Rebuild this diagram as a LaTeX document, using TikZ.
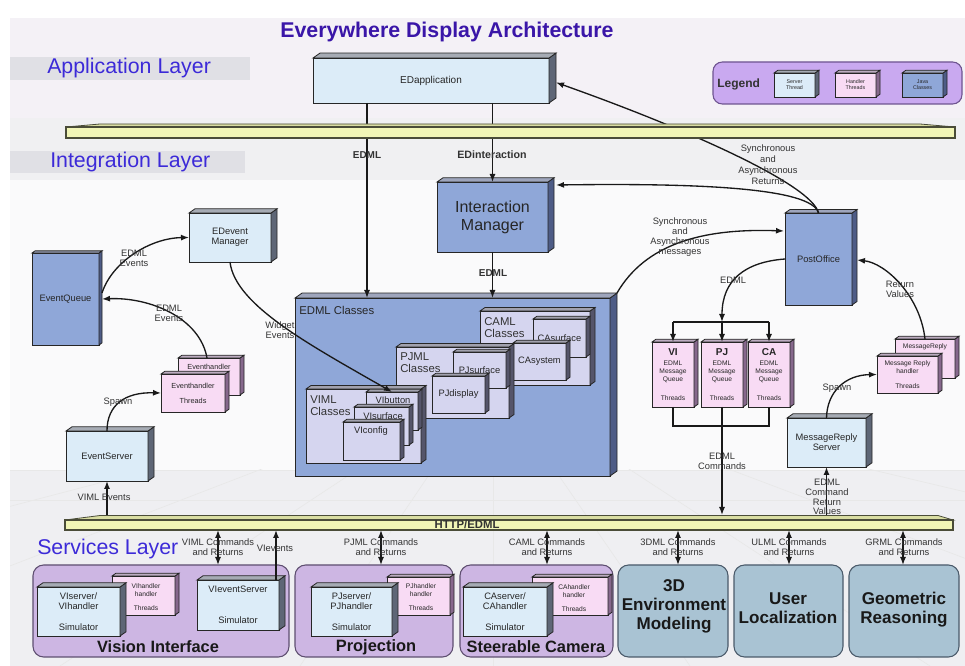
\documentclass[tikz,border=0pt]{standalone}
\usepackage{fontspec}
\setmainfont{Liberation Sans}
\usetikzlibrary{arrows.meta}

\newcommand\fsz[2]{\fontsize{#1}{#2}\selectfont}
% box by corners: name, x1, y1, x2, y2, style, text
\newcommand\bx[7]{\node[#6, minimum width={(#4-#2)*0.75pt}, minimum height={(#5-#3)*0.75pt}] (#1) at ({(#2+#4)/2},{(#3+#5)/2}) {#7};}
% extruded side and top faces of a box: name, depth, side colour
\newcommand\ext[3]{%
  \filldraw[edge, fill=#3] (#1.north east) -- ++(#2,{-0.7*#2}) -- ([shift={(#2,{-0.7*#2})}]#1.south east) -- (#1.south east) -- cycle;
  \filldraw[edge, fill=#3!55!white] (#1.north west) -- ++(#2,{-0.7*#2}) -- ([shift={(#2,{-0.7*#2})}]#1.north east) -- (#1.north east) -- cycle;}

\definecolor{srv}{HTML}{DCECF8}
\definecolor{hdl}{HTML}{F8DBF4}
\definecolor{jav}{HTML}{8FA7D8}
\definecolor{grp}{HTML}{D5D5EF}
\definecolor{sideS}{HTML}{5E6676}
\definecolor{sideH}{HTML}{86688C}
\definecolor{sideJ}{HTML}{4E5C86}
\definecolor{sideG}{HTML}{55556A}
\definecolor{barfill}{HTML}{F1F5B6}
\definecolor{bartop}{HTML}{D9DDA2}
\definecolor{barline}{HTML}{4A4C38}
\definecolor{titlec}{HTML}{3A16A8}
\definecolor{layerc}{HTML}{3C2AD8}
\definecolor{svcpur}{HTML}{CDB6E3}
\definecolor{svcpl}{HTML}{5E4E70}
\definecolor{svcblu}{HTML}{A9C3D3}
\definecolor{svcbl}{HTML}{4A5A6A}
\definecolor{legc}{HTML}{C9A9F0}
\definecolor{legl}{HTML}{6E5490}
\definecolor{bgA}{HTML}{F4F1F6}
\definecolor{bgAA}{HTML}{F0F0F2}
\definecolor{bgB}{HTML}{FAFAFB}
\definecolor{bgC}{HTML}{EFEFF2}
\definecolor{band}{HTML}{E0E0E5}

\tikzset{
  edge/.style={draw=black!85, line width=0.6pt},
  boxS/.style={edge, fill=srv, inner sep=0pt, outer sep=0pt, align=center, font=\fsz{7}{7.5}, text=black!85},
  boxH/.style={boxS, fill=hdl},
  boxJ/.style={boxS, fill=jav},
  boxG/.style={boxS, fill=grp},
  svcP/.style={draw=svcpl, line width=0.8pt, fill=svcpur, rounded corners=8pt, inner sep=0pt, outer sep=0pt},
  svcB/.style={svcP, fill=svcblu, draw=svcbl},
  svct/.style={font=\bfseries\fsz{12.3}{14}, text=black!90, inner sep=0pt, align=center},
  layer/.style={font=\fsz{16}{18}, text=layerc, inner sep=0pt},
  lbl/.style={font=\fsz{7}{7.5}, align=center, inner sep=0pt, text=black!80},
  lblb/.style={lbl, font=\bfseries\fsz{7.5}{8}},
  small/.style={font=\fsz{5.5}{6.5}, align=center, inner sep=0pt, text=black!85},
  conn/.style={line width=1pt, draw=black!90, -{Latex[length=6pt,width=4.5pt]}},
  dconn/.style={line width=1pt, draw=black!90, {Latex[length=6pt,width=4.5pt]}-{Latex[length=6pt,width=4.5pt]}},
  plain/.style={line width=1pt, draw=black!90},
  floor/.style={draw=black!9, line width=0.5pt},
}

\begin{document}
\begin{tikzpicture}[x=0.75pt,y=-0.75pt]
\useasboundingbox (0,0) rectangle (965,666);

% ---- backdrop ----
\fill[white] (0,0) rectangle (965,666);
\fill[bgA] (10,18) rectangle (965,118);
\fill[bgAA] (10,118) rectangle (965,180);
\fill[bgB] (10,180) rectangle (965,470);
\fill[bgC] (10,470) rectangle (965,666);
\begin{scope}
  \clip (10,470) rectangle (965,666);
  \foreach \xx in {-1100,-600,-250,60,300,493,690,930,1250,1700,2300}
    \draw[floor] (493,380) -- (\xx,666);
  \draw[floor] (10,470) -- (965,470);
  \draw[floor] (10,500) -- (965,500);
\end{scope}
\fill[band] (10,57) rectangle (250,80);
\fill[band] (10,151) rectangle (245,173);

% ---- titles ----
\node[font=\bfseries\fsz{16}{18}, text=titlec, inner sep=0pt] (title) at (447,32) {Everywhere Display Architecture};
\node[layer, anchor=west] (lapp) at (47,68) {Application Layer};
\node[layer, anchor=west] (lint) at (50,162) {Integration Layer};
\node[layer, anchor=west] (lsvc) at (37,549) {Services Layer};

% ---- legend ----
\bx{legend}{713}{62}{962}{104}{draw=legl, fill=legc, rounded corners=7pt, line width=0.8pt, inner sep=0pt}{}
\node[font=\bfseries\fsz{9}{10}, text=black!80, anchor=west, inner sep=0pt] (legt) at (717,84) {Legend};
\bx{lgS}{774}{73}{815}{97}{boxS, font=\fsz{4}{4.6}}{Server\\Thread} \ext{lgS}{4}{sideS}
\bx{lgH}{835}{73}{876}{97}{boxH, font=\fsz{4}{4.6}}{Handler\\Threads} \ext{lgH}{4}{sideH}
\bx{lgJ}{902}{73}{943}{97}{boxJ, font=\fsz{4}{4.6}}{Java\\Classes} \ext{lgJ}{4}{sideJ}

% ---- application / integration boxes ----
\bx{app}{313}{58}{549}{103}{boxS, font=\fsz{7.5}{9}}{EDapplication} \ext{app}{7}{sideS}
\bx{im}{437}{182}{548}{252}{boxJ, font=\fsz{12}{13.5}}{Interaction\\Manager} \ext{im}{6}{sideJ}
\bx{evm}{189}{213}{271}{262}{boxS}{EDevent\\Manager} \ext{evm}{6}{sideS}
\bx{eq}{32}{253}{99}{345}{boxJ}{EventQueue} \ext{eq}{3}{sideJ}
\bx{po}{785}{213}{852}{305}{boxJ}{PostOffice} \ext{po}{5}{sideJ}

% ---- EDML classes ----
\bx{edml}{295}{298}{610}{476}{boxJ}{} \ext{edml}{7}{sideJ}
\node[font=\fsz{8.5}{9}, anchor=west, inner sep=0pt, text=black!85] (edmlt) at (299,310) {EDML Classes};

\bx{caml}{480}{311}{590}{385}{boxG}{} \ext{caml}{5}{sideG}
\node[font=\fsz{8.5}{9}, anchor=west, align=left, inner sep=0pt, text=black!80] (camlt) at (484,328) {CAML\\Classes};
\bx{casurf}{533}{319}{586}{357}{boxG}{CAsurface} \ext{casurf}{4}{sideG}
\bx{casys}{513}{343}{566}{380}{boxG}{CAsystem} \ext{casys}{4}{sideG}

\bx{pjml}{396}{347}{509}{418}{boxG}{} \ext{pjml}{5}{sideG}
\node[font=\fsz{8.5}{9}, anchor=west, align=left, inner sep=0pt, text=black!80] (pjmlt) at (400,363) {PJML\\Classes};
\bx{pjsurf}{453}{352}{506}{388}{boxG}{PJsurface} \ext{pjsurf}{4}{sideG}
\bx{pjdisp}{432}{376}{485}{413}{boxG}{PJdisplay} \ext{pjdisp}{4}{sideG}

\bx{viml}{306}{389}{421}{463}{boxG}{} \ext{viml}{5}{sideG}
\node[font=\fsz{8.5}{9}, anchor=west, align=left, inner sep=0pt, text=black!80] (vimlt) at (310,406) {VIML\\Classes};
\bx{vibut}{366}{392}{418}{430}{boxG}{} \ext{vibut}{4}{sideG}
\node[font=\fsz{7}{7.5}, inner sep=0pt, text=black!85] (vibutt) at (393,400) {VIbutton};
\bx{visurf}{354}{407}{409}{445}{boxG}{} \ext{visurf}{4}{sideG}
\node[font=\fsz{7}{7.5}, inner sep=0pt, text=black!85] (visurft) at (383,416) {VIsurface};
\bx{viconf}{343}{422}{400}{460}{boxG}{} \ext{viconf}{4}{sideG}
\node[font=\fsz{7}{7.5}, inner sep=0pt, text=black!85] (viconft) at (371,431) {VIconfig};

% ---- event handling ----
\bx{evh}{178}{358}{240}{395}{boxH}{} \ext{evh}{4}{sideH}
\node[small] (evht) at (209,367) {Eventhandler};
\bx{evhf}{161}{374}{225}{412}{boxH, font=\fsz{5.5}{6.5}}{Eventhandler\\[4.7pt]Threads} \ext{evhf}{4}{sideH}
\bx{evs}{66}{431}{148}{481}{boxS}{EventServer} \ext{evs}{6}{sideS}

% ---- message queues ----
\bx{qvi}{652}{342}{694}{407}{boxH, font=\fsz{5}{6}}{{\fsz{7.5}{6}\bfseries VI}\\[2pt]EDML\\Message\\Queue\\[8pt]Threads} \ext{qvi}{4}{sideH}
\bx{qpj}{701}{342}{743}{407}{boxH, font=\fsz{5}{6}}{{\fsz{7.5}{6}\bfseries PJ}\\[2pt]EDML\\Message\\Queue\\[8pt]Threads} \ext{qpj}{4}{sideH}
\bx{qca}{748}{342}{790}{407}{boxH, font=\fsz{5}{6}}{{\fsz{7.5}{6}\bfseries CA}\\[2pt]EDML\\Message\\Queue\\[8pt]Threads} \ext{qca}{4}{sideH}

\bx{mrs}{787}{418}{866}{467}{boxS}{MessageReply\\Server} \ext{mrs}{6}{sideS}
\bx{mrh}{895}{339}{955}{378}{boxH}{} \ext{mrh}{4}{sideH}
\node[small, font=\fsz{5}{6}] (mrht) at (925,347) {MessageReply};
\bx{mrhf}{877}{356}{938}{393}{boxH, font=\fsz{5}{6}}{Message Reply\\handler\\[5.3pt]Threads} \ext{mrhf}{4}{sideH}

% ---- services ----
\bx{svVI}{33}{565}{289}{657}{svcP}{}
\bx{vih}{112}{576}{175}{615}{boxH}{} \ext{vih}{4}{sideH}
\node[small, font=\fsz{5}{6}] (viht) at (146,597) {VIhandler\\handler\\[5pt]Threads};
\bx{visim}{37}{587}{120}{636}{boxS}{VIserver/\\VIhandler\\[8pt]Simulator} \ext{visim}{6}{sideS}
\bx{vievs}{197}{580}{279}{630}{boxS}{VIeventServer\\[15.5pt]Simulator} \ext{vievs}{6}{sideS}
\node[svct] (svVIt) at (158,647) {Vision Interface};

\bx{svPJ}{295}{565}{453}{657}{svcP}{}
\bx{pjh}{387}{577}{450}{615}{boxH}{} \ext{pjh}{4}{sideH}
\node[small, font=\fsz{5}{6}] (pjht) at (421,597) {PJhandler\\handler\\[5pt]Threads};
\bx{pjsim}{311}{587}{392}{636}{boxS}{PJserver/\\PJhandler\\[8pt]Simulator} \ext{pjsim}{6}{sideS}
\node[svct] (svPJt) at (376,647) {Projection};

\bx{svCA}{460}{565}{613}{657}{svcP}{}
\bx{cah}{532}{577}{608}{615}{boxH}{} \ext{cah}{4}{sideH}
\node[small, font=\fsz{5}{6}] (caht) at (574,598) {CAhandler\\handler\\[5pt]Threads};
\bx{casim}{463}{587}{547}{636}{boxS}{CAserver/\\CAhandler\\[8pt]Simulator} \ext{casim}{6}{sideS}
\node[svct] (svCAt) at (536,647) {Steerable Camera};

\bx{sv3D}{618}{565}{728}{657}{svcB}{}
\node[svct, font=\bfseries\fsz{12.8}{14.3}] (sv3Dt) at (674,606) {3D\\Environment\\Modeling};
\bx{svUL}{734}{565}{843}{657}{svcB}{}
\node[svct, font=\bfseries\fsz{12.8}{14.3}] (svULt) at (788,608) {User\\Localization};
\bx{svGR}{849}{565}{959}{657}{svcB}{}
\node[svct, font=\bfseries\fsz{12.8}{14.3}] (svGRt) at (904,610) {Geometric\\Reasoning};

% ---- bars (anchors only; drawn after the connectors) ----
\bx{appbar}{66}{124}{955}{138}{inner sep=0pt, outer sep=0pt}{}
\bx{httpbar}{65}{515}{953}{530}{inner sep=0pt, outer sep=0pt}{}

% ---- connectors ----
\coordinate (xEDML) at (367,0);
\draw[conn] (app.south -| xEDML) -- (edml.north -| xEDML);
\draw[conn] (app.south -| im.north) -- (im.north);
\draw[conn] (im.south) -- (im.south |- edml.north);
\draw[conn] (po.north) .. controls (812,188) and (700,183) .. ([shift={(8,3)}]im.north east);
\draw[conn] (po.north) .. controls (812,185) and (690,130) .. ([shift={(7,2)}]app.east);
\draw[conn] ([shift={(7,-5)}]edml.north east) .. controls (645,245) and (700,228) .. ([shift={(-1,18)}]po.north west);

\coordinate (fork) at (qpj.north |- 0,322);
\draw[conn] (po.west) .. controls (745,262) and (722,280) .. (fork);
\draw[plain] (qvi.north |- fork) -- (qca.north |- fork);
\draw[conn] (qvi.north |- fork) -- (qvi.north);
\draw[conn] (fork) -- (qpj.north);
\draw[conn] (qca.north |- fork) -- (qca.north);
\draw[plain] (qvi.south) -- (qvi.south |- 0,426) -- (qca.south |- 0,426) -- (qca.south);
\draw[conn] (qpj.south) -- (qpj.south |- httpbar.north);

\draw[conn] (httpbar.north -| mrs.south) -- (mrs.south);
\draw[conn] (mrs.north) .. controls (827,392) and (845,375) .. (mrhf.west);
\draw[conn] (mrh.north) .. controls (920,295) and (885,263) .. ([shift={(5,1)}]po.east);

\draw[conn] ([shift={(3,-6)}]eq.east) .. controls (112,262) and (150,238) .. (evm.west);
\draw[conn] ([shift={(-2,0)}]evh.north) .. controls (200,318) and (150,297) .. ([shift={(3,0)}]eq.east);
\draw[conn] (evm.south) .. controls (235,305) and (310,345) .. (vibut.north);
\draw[conn] (httpbar.north -| evs.south) -- (evs.south);
\draw[conn] (evs.north) .. controls (107,405) and (125,392) .. (evhf.west);

\coordinate (xVI) at (218,0);
\coordinate (xVIe) at (276,0);
\coordinate (xPJ) at (381,0);
\coordinate (xCA) at (547,0);
\coordinate (x3D) at (678,0);
\coordinate (xUL) at (789,0);
\coordinate (xGR) at (903,0);
\draw[dconn] (httpbar.south -| xVI) -- (svVI.north -| xVI);
\draw[conn] (vievs.north -| xVIe) -- (httpbar.south -| xVIe);
\draw[dconn] (httpbar.south -| xPJ) -- (svPJ.north -| xPJ);
\draw[dconn] (httpbar.south -| xCA) -- (svCA.north -| xCA);
\draw[dconn] (httpbar.south -| x3D) -- (sv3D.north -| x3D);
\draw[dconn] (httpbar.south -| xUL) -- (svUL.north -| xUL);
\draw[dconn] (httpbar.south -| xGR) -- (svGR.north -| xGR);

% ---- bars ----
\filldraw[fill=bartop, draw=barline, line width=0.6pt] (66,127) -- (100,124) -- (920,124) -- (955,127) -- cycle;
\filldraw[fill=barfill, draw=barline, line width=0.8pt] (66,127) rectangle (955,138);
\filldraw[fill=bartop, draw=barline, line width=0.6pt] (65,520) -- (100,515.5) -- (938,515.5) -- (953,520) -- cycle;
\filldraw[fill=barfill, draw=barline, line width=0.8pt] (65,520) rectangle (953,530);

% ---- labels ----
\node[lblb] (lEDML1) at (367,155) {EDML};
\node[lblb, font=\bfseries\fsz{8}{8.5}] (lEDi) at (492,155) {EDinteraction};
\node[lblb] (lEDML2) at (493,273) {EDML};
\node[lbl, font=\fsz{7}{8.25}] (lSAR) at (768,165) {Synchronous\\and\\Asynchronous\\Returns};
\node[lbl] (lSAM) at (680,237) {Synchronous\\and\\Asynchronous\\messages};
\node[lbl] (lEDML3) at (733,280) {EDML};
\node[lbl] (lRV) at (900,289) {Return\\Values};
\node[lbl] (lEE1) at (134,258) {EDML\\Events};
\node[lbl] (lEE2) at (169,313) {EDML\\Events};
\node[lbl] (lWE) at (280,330) {Widget\\Events};
\node[lbl] (lSp1) at (118,402) {Spawn};
\node[lbl] (lSp2) at (837,388) {Spawn};
\node[lbl] (lEC) at (722,461) {EDML\\Commands};
\node[lbl, font=\fsz{7}{7.3}] (lECR) at (827,497) {EDML\\Command\\Return\\Values};
\node[lbl] (lVE) at (104,497) {VIML Events};
\node[lblb, font=\bfseries\fsz{8.5}{9}] (lHTTP) at (467,525) {HTTP/EDML};
\node[lbl] (lVIc) at (218,547) {VIML Commands\\and Returns};
\node[lbl] (lVIev) at (275,548) {VIevents};
\node[lbl] (lPJc) at (381,547) {PJML Commands\\and Returns};
\node[lbl] (lCAc) at (547,547) {CAML Commands\\and Returns};
\node[lbl] (l3Dc) at (678,547) {3DML Commands\\and Returns};
\node[lbl] (lULc) at (789,547) {ULML Commands\\and Returns};
\node[lbl] (lGRc) at (904,547) {GRML Commands\\and Returns};
\end{tikzpicture}
\end{document}
